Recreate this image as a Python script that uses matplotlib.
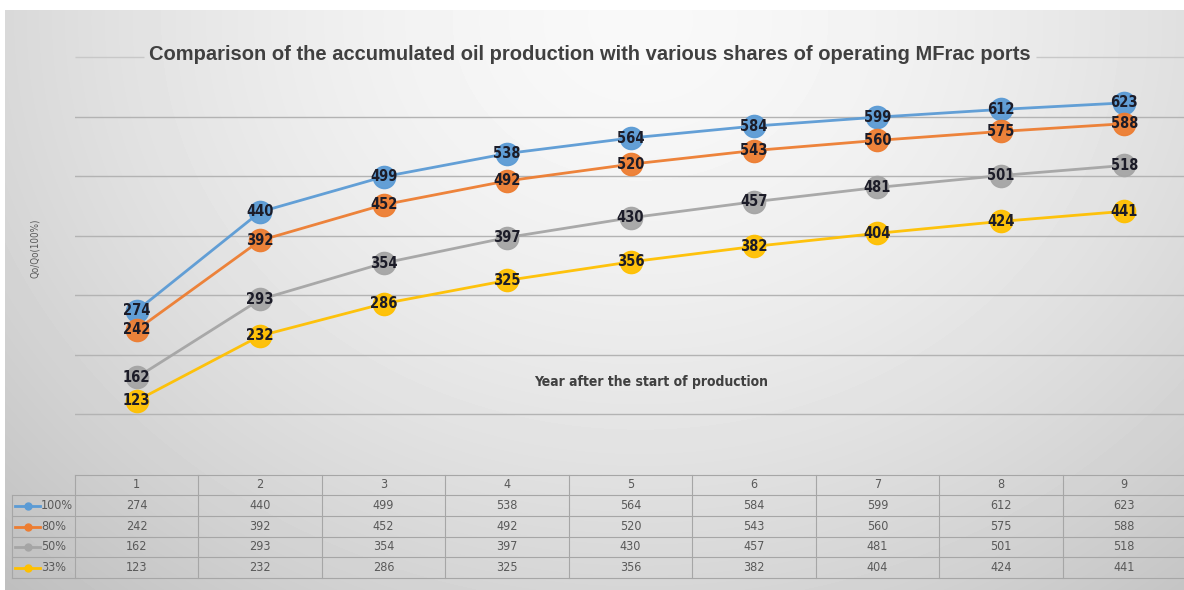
import numpy as np
import matplotlib.pyplot as plt
from matplotlib import font_manager
from matplotlib.font_manager import FontProperties

years = [1, 2, 3, 4, 5, 6, 7, 8, 9]
series_names = ["100%", "80%", "50%", "33%"]
q100 = [274, 440, 499, 538, 564, 584, 599, 612, 623]
q80 = [242, 392, 452, 492, 520, 543, 560, 575, 588]
q50 = [162, 293, 354, 397, 430, 457, 481, 501, 518]
q33 = [123, 232, 286, 325, 356, 382, 404, 424, 441]
series = [q100, q80, q50, q33]
colors = ["#5B9BD5", "#ED7D31", "#A5A5A5", "#FFC000"]


def find_narrow(bold):
    for f in font_manager.fontManager.ttflist:
        fn = f.fname.lower()
        if ("narrow" in fn or "condensed" in fn) and "oblique" not in fn and "italic" not in fn:
            is_bold = "bold" in fn and "semi" not in fn and "extra" not in fn
            if is_bold == bold:
                return f.fname
    return None


def narrow_font(bold, size):
    fn = find_narrow(bold)
    if fn:
        return FontProperties(fname=fn, size=size)
    return FontProperties(family="Liberation Sans", weight="bold" if bold else "normal", size=size)


W, H = 1184, 590
fig = plt.figure(figsize=(W / 100, H / 100), dpi=100)
fig.patch.set_facecolor("white")

# background gradient, pixel coordinates
bg = fig.add_axes([5 / W, 0, 1 - 5 / W, 1 - 10 / H])
yy, xx = np.mgrid[10:590, 5:1184]
d = np.sqrt(((xx - 640) / 820) ** 2 + ((yy - 20) / 700) ** 2)
shade = np.clip(0.975 - 0.19 * d ** 1.6, 0, 1)
bg.imshow(shade, cmap="gray", vmin=0, vmax=1, extent=(5, 1184, 590, 10), aspect="auto")
bg.set_xlim(5, 1184)
bg.set_ylim(590, 10)
bg.axis("off")

# main plot
ax = fig.add_axes([75 / W, 1 - 474 / H, (1186 - 75) / W, (474 - 57) / H])
ax.patch.set_alpha(0)
ax.set_xlim(0.5, 9.5)
ax.set_ylim(0, 700)
ax.set_yticks(range(100, 700, 100))
ax.set_xticks([])
ax.yaxis.grid(True, color="#b3b3b3", lw=1)
ax.tick_params(length=0, labelleft=False)
for s in ax.spines.values():
    s.set_visible(False)

label_fp = narrow_font(True, 10.5)
for vals, c in zip(series, colors):
    ax.plot(years, vals, color=c, lw=2, marker="o", ms=16, mfc=c, mec=c,
            alpha=0.95, zorder=3, clip_on=False)
    for x, v in zip(years, vals):
        ax.text(x, v, str(v), ha="center", va="center", fontproperties=label_fp,
                color="#1c1c28", zorder=4)

title = fig.text(590 / W, 1 - 55 / H,
                 "Comparison of the accumulated oil production with various shares of operating MFrac ports",
                 ha="center", va="center", fontsize=14.5, fontweight="bold", color="#404040",
                 family="Liberation Sans")

# top gridline is interrupted by the title
fig.canvas.draw()
bb = title.get_window_extent().transformed(ax.transData.inverted())
ax.hlines(700, 0.5, bb.x0 - 0.04, color="#c8c8c8", lw=1, clip_on=False)
ax.hlines(700, bb.x1 + 0.04, 9.5, color="#c8c8c8", lw=1, clip_on=False)

bg.text(651, 382, "Year after the start of production", ha="center", va="center",
        fontproperties=narrow_font(True, 10), color="#404040")
bg.text(35, 248, "Qo/Qo(100%)", rotation=90, ha="center", va="center",
        fontproperties=narrow_font(False, 7), color="#595959")

# data table
x0, cw = 75, 123.44
rows = [475, 495, 516, 537, 557, 578]
lc, tc = "#a6a6a6", "#595959"
tab_fp = narrow_font(False, 9)
bg.plot([x0, x0 + 9 * cw], [rows[0], rows[0]], color=lc, lw=0.8)
for r in rows[1:]:
    bg.plot([12, x0 + 9 * cw], [r, r], color=lc, lw=0.8)
for i in range(10):
    bg.plot([x0 + i * cw] * 2, [rows[0], rows[-1]], color=lc, lw=0.8)
bg.plot([12, 12], [rows[1], rows[-1]], color=lc, lw=0.8)

for i, yr in enumerate(years):
    bg.text(x0 + (i + 0.5) * cw, (rows[0] + rows[1]) / 2, str(yr), ha="center", va="center",
            fontproperties=tab_fp, color=tc)
for j, (name, vals, c) in enumerate(zip(series_names, series, colors)):
    yc = (rows[j + 1] + rows[j + 2]) / 2
    bg.plot([15, 40], [yc, yc], color=c, lw=2)
    bg.plot([27.5], [yc], marker="o", ms=5, color=c)
    bg.text(41, yc, name, ha="left", va="center", fontproperties=tab_fp, color=tc)
    for i, v in enumerate(vals):
        bg.text(x0 + (i + 0.5) * cw, yc, str(v), ha="center", va="center",
                fontproperties=tab_fp, color=tc)

fig.savefig("out.png", dpi=100)
